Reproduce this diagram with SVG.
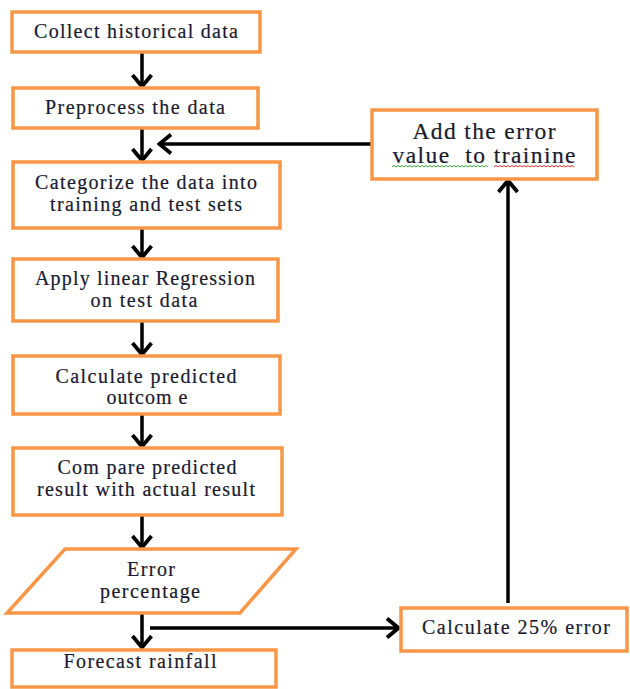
<svg xmlns="http://www.w3.org/2000/svg" width="630" height="689" viewBox="0 0 630 689">
<defs>
<style>
.box{fill:#fff;stroke:#F79646;stroke-width:3.5}
.t{font-family:'Liberation Serif','Times New Roman',serif;font-size:20px;fill:#1a1a2e;stroke:#1a1a2e;stroke-width:0.2;text-anchor:middle;white-space:pre}
.big{font-size:23.5px}
.c{fill:none;stroke:#000;stroke-width:3.5}
</style>
<marker id="ah" viewBox="0 0 16 22" refX="14" refY="11" markerWidth="16" markerHeight="22" markerUnits="userSpaceOnUse" orient="auto">
<path d="M2,1.5 L13.5,11 L2,20.5" fill="none" stroke="#000" stroke-width="3.8"/>
</marker>
</defs>
<rect width="630" height="689" fill="#fff"/>
<g id="connectors">
<line class="c" x1="142" y1="53" x2="142" y2="87" marker-end="url(#ah)"/>
<line class="c" x1="142" y1="129" x2="142" y2="161" marker-end="url(#ah)"/>
<line class="c" x1="372" y1="144" x2="159" y2="144" marker-end="url(#ah)"/>
<line class="c" x1="142" y1="229" x2="142" y2="258" marker-end="url(#ah)"/>
<line class="c" x1="142" y1="322" x2="142" y2="355" marker-end="url(#ah)"/>
<line class="c" x1="142" y1="415" x2="142" y2="447" marker-end="url(#ah)"/>
<line class="c" x1="142" y1="516" x2="142" y2="548" marker-end="url(#ah)"/>
<line class="c" x1="142" y1="614" x2="142" y2="648" marker-end="url(#ah)"/>
<line class="c" x1="150" y1="628" x2="399" y2="628" marker-end="url(#ah)"/>
<line class="c" x1="508" y1="603" x2="508" y2="180" marker-end="url(#ah)"/>
</g>
<g id="n1"><rect class="box" x="12" y="12" width="248" height="40"/><text class="t" x="136" y="38" textLength="204" lengthAdjust="spacing">Collect historical data</text></g>
<g id="n2"><rect class="box" x="13" y="88" width="245" height="40"/><text class="t" x="135" y="114" textLength="180" lengthAdjust="spacing">Preprocess the data</text></g>
<g id="n3"><rect class="box" x="13" y="162" width="267" height="66"/><text class="t" x="146" y="189" textLength="222" lengthAdjust="spacing">Categorize the data into</text><text class="t" x="146" y="211" textLength="192" lengthAdjust="spacing">training and test sets</text></g>
<g id="n4"><rect class="box" x="13" y="259" width="265" height="62"/><text class="t" x="145" y="285" textLength="220" lengthAdjust="spacing">Apply linear Regression</text><text class="t" x="144" y="307" textLength="107" lengthAdjust="spacing">on test data</text></g>
<g id="n5"><rect class="box" x="13" y="356" width="267" height="58"/><text class="t" x="146" y="383" textLength="181" lengthAdjust="spacing">Calculate predicted</text><text class="t" x="147" y="404" textLength="81" lengthAdjust="spacing">outcom e</text></g>
<g id="n6"><rect class="box" x="13" y="448" width="269" height="67"/><text class="t" x="147" y="474" textLength="179" lengthAdjust="spacing">Com pare predicted</text><text class="t" x="146" y="496" textLength="218" lengthAdjust="spacing">result with actual result</text></g>
<g id="n7"><polygon class="box" points="65,549 296,549 240,613 7,613"/><text class="t" x="151" y="576" textLength="48" lengthAdjust="spacing">Error</text><text class="t" x="150" y="598" textLength="100" lengthAdjust="spacing">percentage</text></g>
<g id="n8"><rect class="box" x="12" y="650" width="264" height="37"/><text class="t" x="140" y="668" textLength="153" lengthAdjust="spacing">Forecast rainfall</text></g>
<g id="n9"><rect class="box" x="401" y="608" width="226" height="43"/><text class="t" x="516" y="634" textLength="188" lengthAdjust="spacing">Calculate 25% error</text></g>
<g id="n10"><rect class="box" x="372" y="110" width="225" height="69"/><text class="t big" x="484" y="139" textLength="143" lengthAdjust="spacing">Add the error</text><text class="t big" x="484" y="163" textLength="183" lengthAdjust="spacing" xml:space="preserve">value  to trainine</text>
<path d="M392,167 l2,-1.5 l2,1.5 l2,-1.5 l2,1.5 l2,-1.5 l2,1.5 l2,-1.5 l2,1.5 l2,-1.5 l2,1.5 l2,-1.5 l2,1.5 l2,-1.5 l2,1.5 l2,-1.5 l2,1.5 l2,-1.5 l2,1.5 l2,-1.5 l2,1.5 l2,-1.5 l2,1.5 l2,-1.5 l2,1.5 l2,-1.5 l2,1.5 l2,-1.5 l2,1.5 l2,-1.5 l2,1.5 l2,-1.5 l2,1.5 l2,-1.5 l2,1.5 l2,-1.5 l2,1.5 l2,-1.5 l2,1.5 l2,-1.5 l2,1.5 l2,-1.5 l2,1.5 l2,-1.5 l2,1.5 l2,-1.5 l2,1.5 l2,-1.5 l2,1.5" fill="none" stroke="#3aa63a" stroke-width="1"/>
<path d="M494,167 l2,-1.5 l2,1.5 l2,-1.5 l2,1.5 l2,-1.5 l2,1.5 l2,-1.5 l2,1.5 l2,-1.5 l2,1.5 l2,-1.5 l2,1.5 l2,-1.5 l2,1.5 l2,-1.5 l2,1.5 l2,-1.5 l2,1.5 l2,-1.5 l2,1.5 l2,-1.5 l2,1.5 l2,-1.5 l2,1.5 l2,-1.5 l2,1.5 l2,-1.5 l2,1.5 l2,-1.5 l2,1.5 l2,-1.5 l2,1.5 l2,-1.5 l2,1.5 l2,-1.5 l2,1.5 l2,-1.5 l2,1.5 l2,-1.5 l2,1.5" fill="none" stroke="#e03030" stroke-width="1"/>
</g>
</svg>
